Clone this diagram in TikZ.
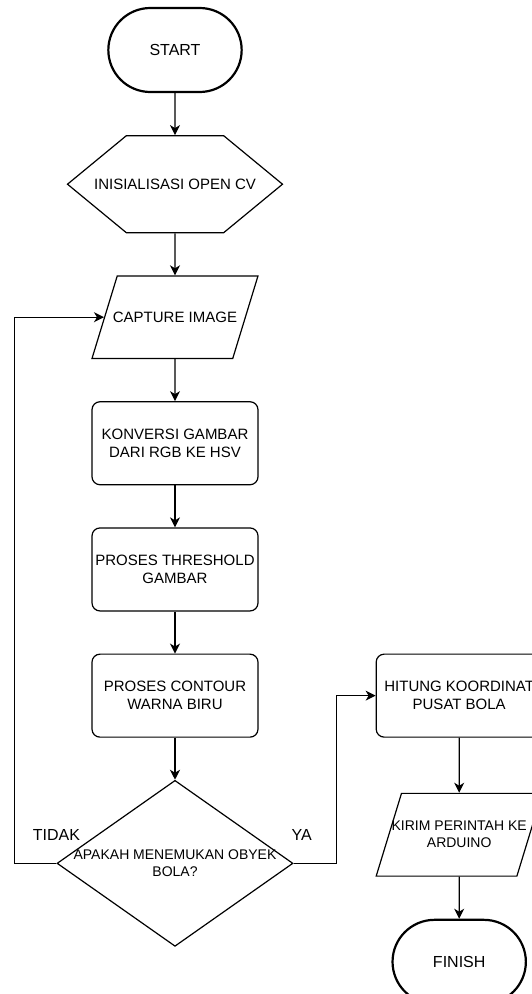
\documentclass[tikz,border=0pt]{standalone}
\usepackage{fontspec}
\setsansfont{Liberation Sans}
\usetikzlibrary{arrows.meta,positioning,shapes.geometric,shapes.misc,shapes.symbols}

\begin{document}
\begin{tikzpicture}[
  x=1pt, y=1pt,
  font=\sffamily\fontsize{15}{18}\selectfont, >={Stealth[length=10pt,width=10pt,inset=3pt]},
  node distance=42pt and 117pt, line width=1.2pt,
  terminal/.style={draw, rounded rectangle, line width=2.2pt,
    minimum width=140pt, minimum height=84pt, font=\sffamily\fontsize{16}{19}\selectfont},
  prep/.style={draw, signal, signal to=west and east, signal pointer angle=79,
    minimum width=215pt, minimum height=97pt, inner xsep=-35pt, inner ysep=0pt},
  io/.style={draw, trapezium, trapezium left angle=73, trapezium right angle=107,
    trapezium stretches body=true, minimum width=166pt,
    inner xsep=-20pt, inner ysep=36pt, align=center},
  process/.style={draw, rounded corners=8pt, minimum width=166pt, minimum height=83pt,
    inner sep=0pt, align=center},
  decision/.style={draw, diamond, aspect=1.42, minimum width=236pt, minimum height=166pt,
    inner xsep=-30pt, inner ysep=0pt, align=center, font=\sffamily\fontsize{14}{17}\selectfont},
  answer/.style={inner sep=0pt, font=\sffamily\fontsize{16}{19}\selectfont},
  flow/.style={->}
]
\useasboundingbox (0,0) rectangle (531,-994);
\node[terminal] (start) at (175,-50) {START};
\node[prep, below=of start] (init) {INISIALISASI OPEN CV};
\node[io, below=of init] (capture) {CAPTURE IMAGE};
\node[process, below=of capture] (hsv) {KONVERSI GAMBAR\\DARI RGB KE HSV};
\node[process, below=of hsv] (threshold) {PROSES THRESHOLD\\GAMBAR};
\node[process, below=of threshold] (contour) {PROSES CONTOUR\\WARNA BIRU};
\node[decision, below=of contour] (cek) {APAKAH MENEMUKAN OBYEK\\BOLA?};
\node[process, right=of contour] (pusat) {HITUNG KOORDINAT\\PUSAT BOLA};
\node[io, below=55pt of pusat, inner ysep=28pt, font=\sffamily\fontsize{14}{17}\selectfont] (kirim) {KIRIM PERINTAH KE\\ARDUINO};
\node[terminal, below=of kirim] (finish) {FINISH};
\node[answer, above=22pt of cek.west] (tidak) {TIDAK};
\node[answer, above=22pt of cek.east, xshift=8pt] (ya) {YA};

\draw[flow] (start) -- (init);
\draw[flow] (init) -- (capture);
\draw[flow] (capture) -- (hsv);
\draw[flow] (hsv) -- (threshold);
\draw[flow] (threshold) -- (contour);
\draw[flow] (contour) -- (cek);
\draw[flow] (cek.west) -- ++(-42,0) |- (capture);
\draw[flow] (cek.east) -- ++(43,0) |- (pusat);
\draw[flow] (pusat) -- (kirim);
\draw[flow] (kirim) -- (finish);
\end{tikzpicture}
\end{document}
